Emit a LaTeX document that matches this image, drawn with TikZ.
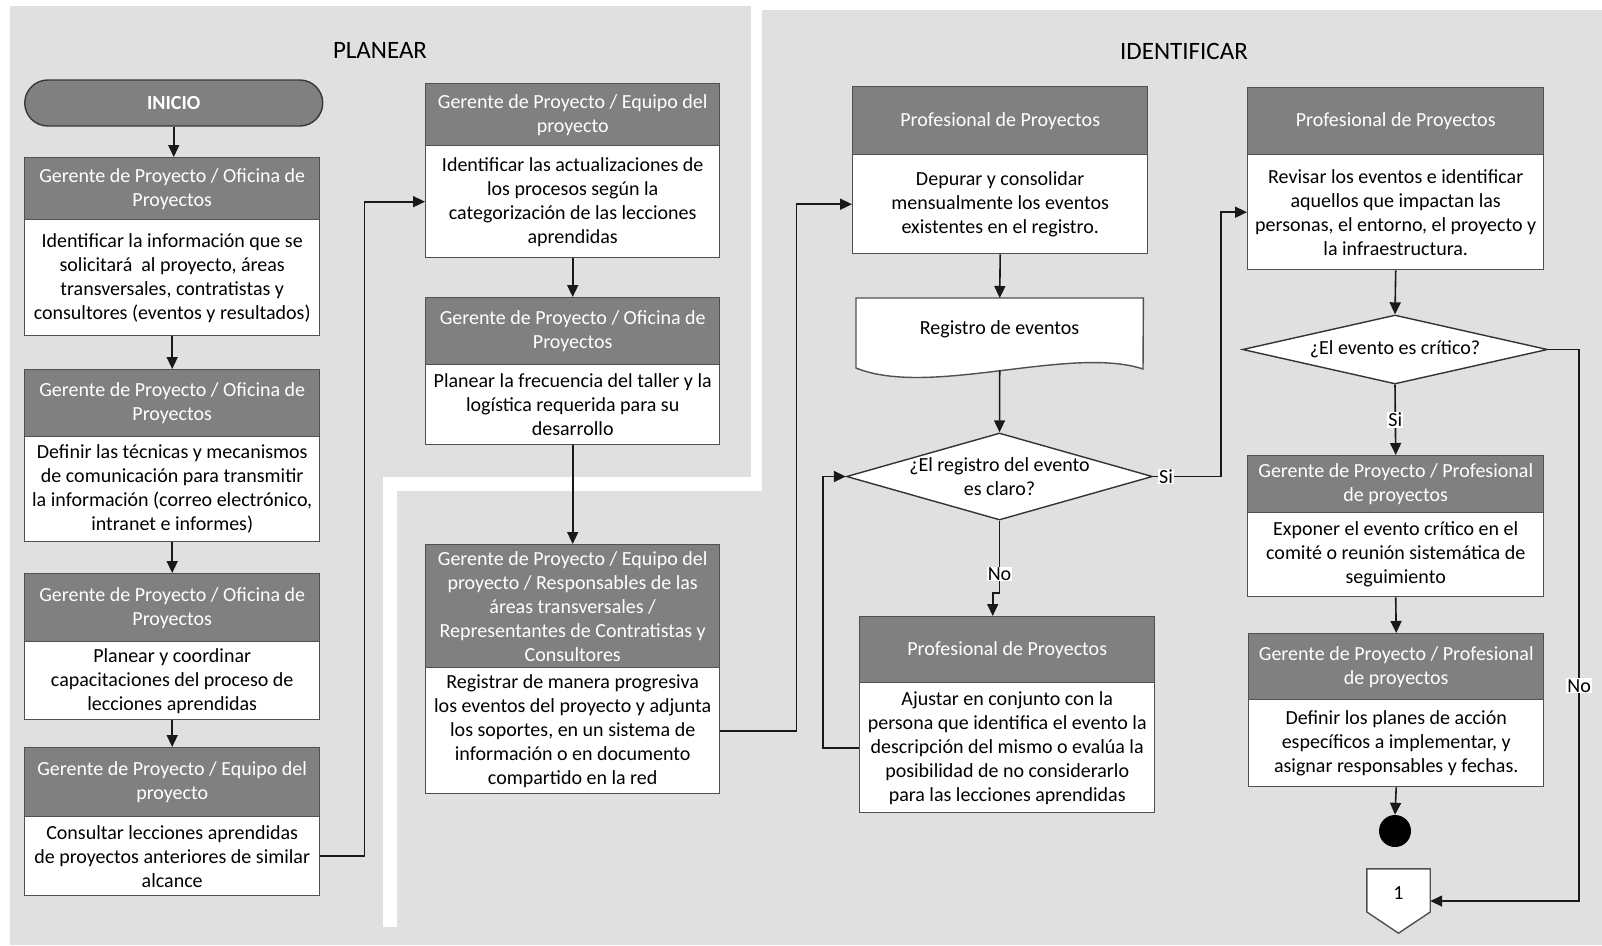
\documentclass[tikz,border=0pt]{standalone}
\usepackage{fontspec}
\setmainfont{Carlito}
\usetikzlibrary{arrows.meta,shapes.geometric}
\definecolor{panel}{RGB}{224,224,224}
\definecolor{hdrgray}{RGB}{128,128,128}
\definecolor{edge}{RGB}{80,80,80}

% process box: header band over a white body
% #1 name, #2 left, #3 right, #4 top, #5 header/body split, #6 bottom, #7 header text, #8 body text
\newcommand\procbox[8]{%
  \node[hdr, minimum width=#3-#2, minimum height=#5-#4, anchor=north west] (#1h) at (#2,#4) {#7};
  \node[bdy, minimum width=#3-#2, minimum height=#6-#5, anchor=north west] (#1) at (#2,#5) {#8};
}

\begin{document}
\begin{tikzpicture}[x=1pt,y=-1pt,
  font=\fontsize{20}{24}\selectfont,
  hdr/.style={draw=edge, fill=hdrgray, text=white, line width=1.4pt, inner sep=0pt, align=center},
  bdy/.style={draw=edge, fill=white, line width=1.4pt, inner sep=0pt, align=center},
  conn/.style={draw=black!90, line width=1.6pt},
  arr/.style={conn, -{Triangle[length=12pt,width=11pt]}},
  lbl/.style={fill=white, inner sep=1pt, font=\fontsize{20}{22}\selectfont},
  title/.style={font=\fontsize{25}{30}\selectfont},
  decision/.style={diamond, draw=black!80, fill=white, line width=1.4pt, inner sep=0pt},
]
\useasboundingbox (0,0) rectangle (1602,945);

% background panels separated by white gaps
\fill[panel] (10,9.5) rectangle (1602,945);
\fill[panel] (10,6) rectangle (751,9.5);
\fill[white] (751,0) rectangle (762,491);
\fill[white] (383,477) rectangle (762,491);
\fill[white] (383,477) rectangle (397,927);

% section titles
\node[title] (tplan) at (380,50) {PLANEAR};
\node[title] (tiden) at (1184,51) {IDENTIFICAR};

% start terminator
\node[draw=edge!70!black, fill=hdrgray, rounded corners=23pt, minimum width=298pt,
      minimum height=46pt, text=white, line width=1.4pt, font=\fontsize{20}{24}\selectfont\bfseries] (ini) at (173.75,103) {INICIO};

% PLANEAR, left column
\procbox{b1}{24}{319}{157}{219}{335}
  {Gerente de Proyecto / Oficina de\\Proyectos}
  {Identificar la información que se\\solicitará~ al proyecto, áreas\\transversales, contratistas y\\consultores (eventos y resultados)}
\procbox{b2}{24}{319}{369}{436}{541}
  {Gerente de Proyecto / Oficina de\\Proyectos}
  {Definir las técnicas y mecanismos\\de comunicación para transmitir\\la información (correo electrónico,\\intranet e informes)}
\procbox{b3}{24}{319}{573}{641}{719}
  {Gerente de Proyecto / Oficina de\\Proyectos}
  {Planear y coordinar\\capacitaciones del proceso de\\lecciones aprendidas}
\procbox{b4}{24}{319}{747}{816}{895}
  {Gerente de Proyecto / Equipo del\\proyecto}
  {Consultar lecciones aprendidas\\de proyectos anteriores de similar\\alcance}

% PLANEAR, right column
\procbox{pa}{425}{719}{83}{145}{257}
  {Gerente de Proyecto / Equipo del\\proyecto}
  {Identificar las actualizaciones de\\los procesos según la\\categorización de las lecciones\\aprendidas}
\procbox{pb}{425}{719}{297}{364}{444}
  {Gerente de Proyecto / Oficina de\\Proyectos}
  {Planear la frecuencia del taller y la\\logística requerida para su\\desarrollo}
\procbox{pc}{425}{719}{544}{667}{793}
  {\fontsize{20}{23}\selectfont Gerente de Proyecto / Equipo del\\proyecto / Responsables de las\\áreas transversales /\\Representantes de Contratistas y\\Consultores}
  {Registrar de manera progresiva\\los eventos del proyecto y adjunta\\los soportes, en un sistema de\\información o en documento\\compartido en la red}

% IDENTIFICAR, first column
\procbox{pd}{852}{1147}{86}{154}{253}
  {Profesional de Proyectos}
  {Depurar y consolidar\\mensualmente los eventos\\existentes en el registro.}

\node[minimum width=287pt, minimum height=72pt, inner sep=0pt, anchor=north west] (doc) at (856,298) {};
\filldraw[fill=white, draw=edge, line width=1.4pt]
  (doc.north west) -- (doc.north east) -- (1143,369)
  .. controls (1070,345) and (930,398) .. (856,368) -- cycle;
\node (doct) at (999.5,329) {Registro de eventos};

\node[decision, minimum width=306pt, minimum height=87pt] (d1) at (999.5,476.5) {};
\node[align=center] (d1t) at (d1) {¿El registro del evento\\es claro?};

\procbox{pg}{859}{1154}{616}{682}{812}
  {Profesional de Proyectos}
  {Ajustar en conjunto con la\\persona que identifica el evento la\\descripción del mismo o evalúa la\\posibilidad de no considerarlo\\para las lecciones aprendidas}

% IDENTIFICAR, second column
\procbox{pe}{1247}{1543}{87}{154}{269}
  {Profesional de Proyectos}
  {Revisar los eventos e identificar\\aquellos que impactan las\\personas, el entorno, el proyecto y\\la infraestructura.}

\node[decision, minimum width=305pt, minimum height=69pt] (d2) at (1395,349.5) {};
\node (d2t) at (d2) {¿El evento es crítico?};

\procbox{pf}{1247}{1543}{455}{512}{596}
  {Gerente de Proyecto / Profesional\\de proyectos}
  {Exponer el evento crítico en el\\comité o reunión sistemática de\\seguimiento}
\procbox{ph}{1248}{1543}{633}{699}{786}
  {Gerente de Proyecto / Profesional\\de proyectos}
  {Definir los planes de acción\\específicos a implementar, y\\asignar responsables y fechas.}

% end point and off-page connector
\node[circle, fill=black, minimum size=32pt, inner sep=0pt] (endc) at (1395,831) {};
\node[minimum width=63pt, minimum height=64pt, inner sep=0pt] (off) at (1398.5,901) {};
\filldraw[fill=white, draw=edge, line width=1.4pt]
  (off.north west) -- (off.north east) -- ([yshift=-11pt]off.east) -- (off.south)
  -- ([yshift=-11pt]off.west) -- cycle;
\node (offt) at (1398.5,893) {1};

% connectors
\draw[arr] (ini.south) -- (ini.south |- b1h.north);
\draw[arr] (b1.south) -- (b2h.north);
\draw[arr] (b2.south) -- (b3h.north);
\draw[arr] (b3.south) -- (b4h.north);
\draw[arr] (b4.east) -- ++(44,0) |- (pa.west);
\draw[arr] (pa.south) -- (pbh.north);
\draw[arr] (pb.south) -- (pch.north);
\draw[arr] (pc.east) -- ++(76,0) |- (pd.west);
\draw[arr] (pd.south) -- (doc.north);
\draw[arr] (doc.south) -- (d1.north);
\draw[arr] (d1.east) -- node[lbl, pos=0.19] {Si} ++(68,0) |- (pe.west);
\draw[arr] (d1.south) -- node[lbl, pos=0.74] {No} ++(0,72) -| ([xshift=-14.5pt]pgh.north);
\draw[arr] (pg.west) -- ++(-36,0) |- (d1.west);
\draw[arr] (pe.south) -- (d2.north);
\draw[arr] (d2.south) -- node[lbl] {Si} (pfh.north);
\draw[arr] (d2.east) -- ++(31,0) coordinate (nbend)
  -- node[lbl, pos=0.61] {No} (nbend |- off.east) -- (off.east);
\draw[arr] (pf.south) -- (phh.north);
\draw[arr] (ph.south) -- (endc.north);
\end{tikzpicture}
\end{document}
